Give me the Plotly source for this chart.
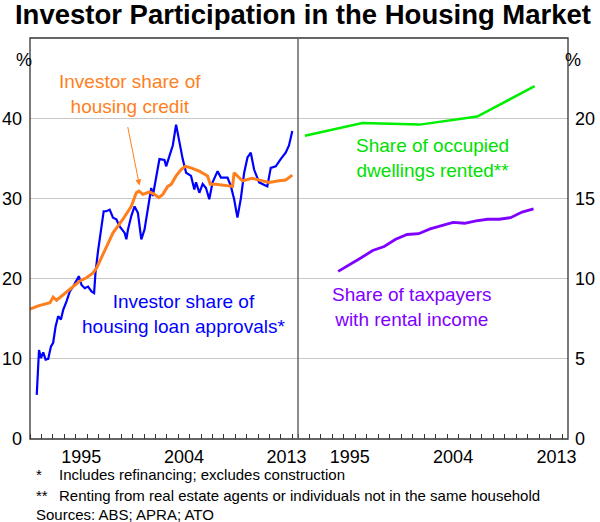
import plotly.graph_objects as go

# ---- Data ----
approvals_x = [1991.59, 1991.79, 1991.96, 1992.16, 1992.37, 1992.60, 1992.83, 1993.03, 1993.24, 1993.47,
               1993.71, 1993.91, 1994.21, 1994.49, 1994.78, 1995.08, 1995.28, 1995.52, 1995.80, 1996.09,
               1996.39, 1996.62, 1996.74, 1996.97, 1997.26, 1997.46, 1997.70, 1997.99, 1998.28, 1998.57,
               1998.86, 1999.30, 1999.45, 1999.59, 1999.88, 2000.17, 2000.46, 2000.76, 2001.04, 2001.48,
               2001.63, 2001.77, 2002.07, 2002.35, 2002.79, 2002.94, 2003.23, 2003.52, 2003.81, 2004.10,
               2004.39, 2004.69, 2005.12, 2005.41, 2005.56, 2005.85, 2006.14, 2006.43, 2006.72, 2007.01,
               2007.45, 2007.74, 2008.32, 2008.62, 2008.90, 2009.19, 2009.49, 2009.78, 2010.07, 2010.36,
               2010.65, 2011.09, 2011.52, 2011.81, 2012.11, 2012.55, 2012.98, 2013.42, 2013.71, 2014.0]
approvals_y = [5.5, 11.1, 10.1, 10.8, 9.9, 10.0, 11.5, 12.0, 14.0, 15.3,
               14.9, 16.1, 17.2, 18.4, 19.0, 19.7, 20.3, 19.2, 18.8, 19.0,
               18.4, 18.2, 20.7, 23.5, 26.1, 28.4, 28.4, 28.6, 27.6, 27.4,
               26.5, 25.7, 24.9, 26.1, 27.8, 29.0, 28.2, 24.9, 26.1, 29.9,
               31.3, 30.3, 32.8, 34.9, 34.8, 34.0, 35.3, 36.6, 39.2, 37.0,
               34.9, 33.2, 32.8, 31.1, 32.0, 30.7, 31.8, 31.3, 29.9, 32.0,
               33.4, 32.6, 32.6, 31.5, 29.9, 27.6, 30.0, 33.2, 35.1, 35.7,
               33.6, 32.0, 31.75, 31.5, 33.8, 34.0, 34.9, 35.7, 36.6, 38.4]

credit_x = [1991.0, 1991.72, 1992.75, 1993.03, 1993.33, 1994.06, 1994.64, 1995.37, 1995.95, 1996.53,
            1996.83, 1997.20, 1997.55, 1998.28, 1999.15, 1999.88, 2000.32, 2000.55, 2000.90, 2001.48,
            2001.92, 2002.29, 2002.64, 2003.08, 2003.38, 2003.81, 2004.25, 2004.62, 2005.12, 2005.85,
            2006.57, 2006.81, 2007.31, 2008.03, 2008.76, 2008.90, 2009.19, 2009.63, 2010.50, 2011.38,
            2011.96, 2012.83, 2013.42, 2014.0]
credit_y = [16.2, 16.6, 17.0, 17.7, 17.3, 18.2, 18.8, 19.7, 20.1, 20.7,
            21.3, 22.4, 23.6, 25.7, 27.4, 29.0, 30.7, 30.9, 30.5, 30.8,
            30.5, 30.1, 30.5, 31.5, 31.75, 32.8, 33.6, 34.0, 33.8, 33.4,
            32.8, 31.75, 31.75, 31.6, 31.5, 33.2, 32.8, 32.2, 32.5, 32.2,
            32.0, 32.2, 32.3, 32.9]

rented_x = [1991.6, 1996.6, 2001.6, 2006.6, 2011.6]
rented_y = [18.9, 19.7, 19.6, 20.1, 22.0]

taxpayers_x = [1994.5, 1995.5, 1996.5, 1997.5, 1998.5, 1999.5, 2000.5, 2001.5, 2002.5, 2003.5,
               2004.5, 2005.5, 2006.5, 2007.5, 2008.5, 2009.5, 2010.5, 2011.5]
taxpayers_y = [10.45, 10.85, 11.3, 11.75, 12.0, 12.45, 12.75, 12.8, 13.1, 13.3,
               13.5, 13.45, 13.6, 13.7, 13.7, 13.8, 14.15, 14.35]

tick_years = [1995.5, 2004.5, 2013.5]
tick_labels = ["1995", "2004", "2013"]
left_ticks = [0, 10, 20, 30, 40]
right_ticks = [0, 5, 10, 15, 20]

FONT = "Liberation Sans, Arial, sans-serif"
BLUE = "#0000FF"
ORANGE = "#FF7F1E"
GREEN = "#00EE00"
PURPLE = "#8000FF"
GRID = "#C8C8C8"

fig = go.Figure()
fig.add_trace(go.Scatter(x=approvals_x, y=approvals_y, mode="lines",
                         line=dict(color=BLUE, width=2.2), xaxis="x", yaxis="y"))
fig.add_trace(go.Scatter(x=credit_x, y=credit_y, mode="lines",
                         line=dict(color=ORANGE, width=3), xaxis="x", yaxis="y"))
fig.add_trace(go.Scatter(x=rented_x, y=rented_y, mode="lines",
                         line=dict(color=GREEN, width=2.5), xaxis="x2", yaxis="y2"))
fig.add_trace(go.Scatter(x=taxpayers_x, y=taxpayers_y, mode="lines",
                         line=dict(color=PURPLE, width=2.8), xaxis="x2", yaxis="y2"))

split = (298 - 30) / 538
xcommon = dict(range=[1991, 2014.5], tickmode="array", tickvals=tick_years, ticktext=tick_labels,
               ticks="", showgrid=False, zeroline=False, showline=False, automargin=False,
               tickfont=dict(family=FONT, size=18, color="#000"), ticklabelstandoff=5,
               minor=dict(tickmode="linear", tick0=1991, dtick=1, ticks="inside", ticklen=5,
                          tickwidth=1, tickcolor="#333", showgrid=False))

fig.update_layout(
    width=600, height=522,
    margin=dict(l=30, r=32, t=38, b=83, autoexpand=False),
    paper_bgcolor="white", plot_bgcolor="white",
    showlegend=False,
    font=dict(family=FONT, color="#000"),
    title=dict(text="<b>Investor Participation in the Housing Market</b>",
               x=0.505, xanchor="center", y=1 - 14 / 522, yanchor="middle", yref="container",
               font=dict(family=FONT, size=27.5, color="#000")),
    xaxis=dict(domain=[0, split], anchor="y", **xcommon),
    xaxis2=dict(domain=[split, 1], anchor="y2", **xcommon),
    yaxis=dict(domain=[0, 1], anchor="x", range=[0, 50], tickmode="array", tickvals=left_ticks,
               showgrid=True, gridcolor=GRID, gridwidth=1, zeroline=False, showline=False,
               automargin=False,
               ticks="", ticklabelstandoff=7, tickfont=dict(family=FONT, size=18, color="#000")),
    yaxis2=dict(domain=[0, 1], anchor="x2", side="right", range=[0, 25], tickmode="array",
                tickvals=right_ticks, showgrid=True, gridcolor=GRID, gridwidth=1, zeroline=False,
                showline=False, ticks="", ticklabelstandoff=6, automargin=False,
                tickfont=dict(family=FONT, size=18, color="#000")),
)

# frame and divider
fig.add_shape(type="rect", xref="paper", yref="paper", x0=0, x1=1, y0=0, y1=1,
              line=dict(color="#333", width=1.3), layer="above")
fig.add_shape(type="line", xref="paper", yref="paper", x0=split, x1=split, y0=0, y1=1,
              line=dict(color="#666", width=1.5), layer="above")

ann_font = lambda c: dict(family=FONT, size=19, color=c)
fig.add_annotation(x=1999.77, y=43.0, xref="x", yref="y", text="Investor share of<br>housing credit",
                   showarrow=False, font=ann_font(ORANGE), align="center")
fig.add_annotation(x=2000.6, y=31.6, xref="x", yref="y", text="", showarrow=True,
                   ax=-12, ay=-60, arrowcolor=ORANGE, arrowwidth=1, arrowhead=2, arrowsize=1.2)
fig.add_annotation(x=2004.5, y=15.6, xref="x", yref="y",
                   text="Investor share of<br>housing loan approvals*",
                   showarrow=False, font=ann_font(BLUE), align="center")
fig.add_annotation(x=2002.7, y=17.5, xref="x2", yref="y2",
                   text="Share of occupied<br>dwellings rented**",
                   showarrow=False, font=ann_font("#00E000"), align="center")
fig.add_annotation(x=2000.9, y=8.25, xref="x2", yref="y2",
                   text="Share of taxpayers<br>with rental income",
                   showarrow=False, font=ann_font(PURPLE), align="center")

# % unit labels
fig.add_annotation(x=-0.03, y=0.975, xref="paper", yref="paper", text="%", showarrow=False,
                   font=dict(family=FONT, size=18, color="#000"))
fig.add_annotation(x=1.027, y=0.975, xref="paper", yref="paper", text="%", showarrow=False,
                   font=dict(family=FONT, size=18, color="#000"))

# footnotes
foot = dict(family=FONT, size=15, color="#000")
def py2paper(py):
    return (439 - py) / 401

fig.add_annotation(x=0.008, y=py2paper(474), xref="paper", yref="paper", text="*",
                   showarrow=False, xanchor="left", yanchor="middle", font=foot)
fig.add_annotation(x=0.05, y=py2paper(474), xref="paper", yref="paper",
                   text="Includes refinancing; excludes construction",
                   showarrow=False, xanchor="left", yanchor="middle", font=foot)
fig.add_annotation(x=0.008, y=py2paper(495), xref="paper", yref="paper", text="**",
                   showarrow=False, xanchor="left", yanchor="middle", font=foot)
fig.add_annotation(x=0.05, y=py2paper(495), xref="paper", yref="paper",
                   text="Renting from real estate agents or individuals not in the same household",
                   showarrow=False, xanchor="left", yanchor="middle", font=foot)
fig.add_annotation(x=0.008, y=py2paper(514), xref="paper", yref="paper", text="Sources: ABS; APRA; ATO",
                   showarrow=False, xanchor="left", yanchor="middle", font=foot)

fig.write_html("out.html", config={"displayModeBar": False},
               post_script="document.body.style.margin='0';document.body.style.overflow='hidden';")
